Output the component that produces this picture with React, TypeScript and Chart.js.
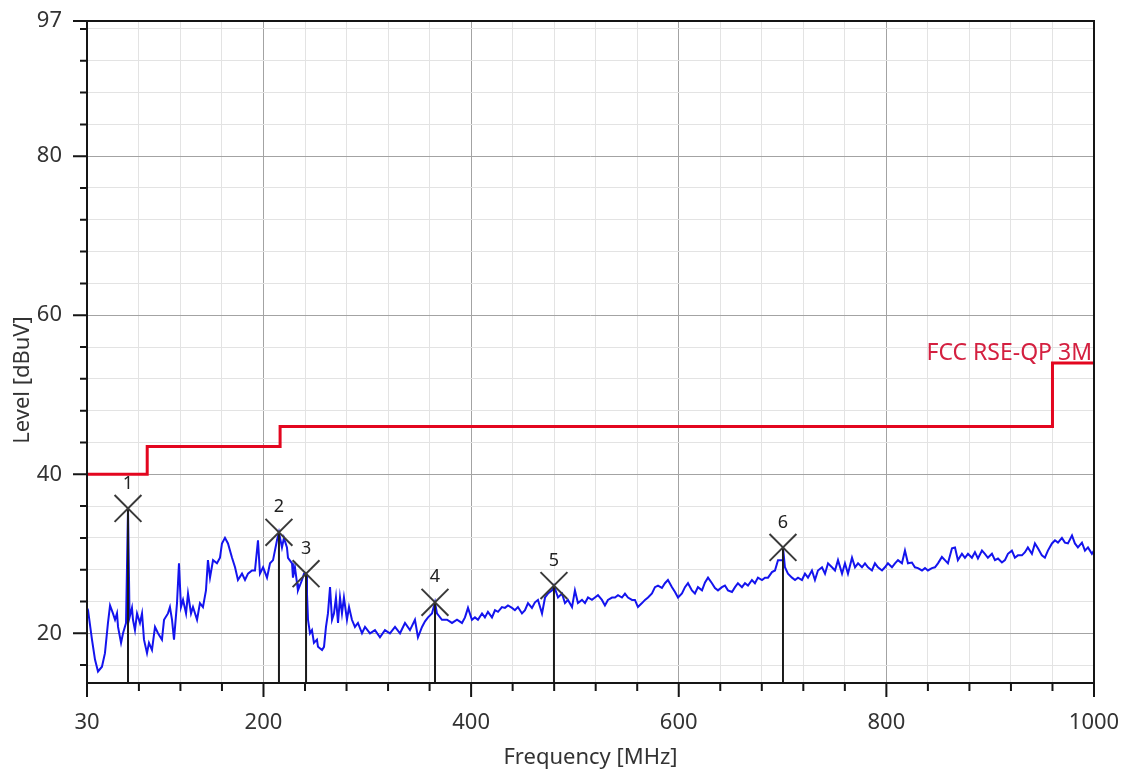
import React, { useEffect, useRef } from 'react';
import { Chart, registerables } from 'chart.js';

Chart.register(...registerables);

// ---- data ----
const traceFreq = [
  30.0, 31.0, 34.8, 37.7, 40.6, 44.4, 47.3, 50.2, 52.2, 55.0,
  57.0, 58.9, 59.9, 62.8, 64.7, 67.6, 69.5, 71.0, 73.3, 74.3,
  76.2, 78.2, 81.0, 83.0, 84.9, 87.8, 89.7, 92.6, 95.5, 98.4,
  102.2, 104.2, 108.0, 109.9, 111.9, 113.8, 116.7, 118.6, 120.5, 122.5,
  125.4, 127.3, 130.2, 132.1, 136.0, 138.8, 141.7, 144.6, 146.5, 148.5,
  151.4, 155.2, 158.1, 160.0, 162.9, 165.8, 169.7, 172.6, 175.4, 179.3,
  182.2, 185.1, 188.9, 191.8, 194.7, 196.6, 199.6, 203.4, 206.3, 209.2,
  213.0, 214.9, 217.8, 219.7, 222.6, 223.6, 227.5, 228.4, 230.3, 232.3,
  233.2, 237.1, 239.0, 241.0, 241.9, 242.9, 244.8, 246.7, 248.6, 251.5,
  252.5, 256.4, 258.3, 260.2, 262.1, 264.1, 266.0, 267.9, 269.8, 271.8,
  273.7, 275.6, 277.5, 280.4, 282.4, 285.2, 288.1, 291.0, 294.9, 297.8,
  302.6, 307.4, 312.2, 317.0, 321.8, 326.7, 331.5, 336.3, 341.1, 345.9,
  348.8, 352.7, 355.6, 358.5, 362.3, 365.2, 367.1, 371.9, 376.8, 381.6,
  386.4, 391.2, 394.1, 397.0, 400.8, 403.7, 406.6, 410.5, 413.3, 416.2,
  420.1, 423.0, 425.9, 429.7, 432.6, 435.5, 439.4, 442.2, 445.1, 449.0,
  451.9, 454.8, 458.6, 461.5, 464.4, 468.3, 471.2, 474.0, 477.9, 479.8,
  483.7, 487.5, 490.4, 493.3, 497.2, 500.0, 502.9, 506.8, 509.7, 512.6,
  516.4, 519.3, 522.2, 526.0, 528.9, 531.8, 535.7, 538.6, 541.5, 545.3,
  548.2, 551.1, 555.0, 557.8, 560.7, 564.6, 567.5, 570.4, 574.2, 577.1,
  580.0, 583.8, 586.7, 589.6, 593.5, 596.4, 599.3, 603.1, 606.0, 608.9,
  612.7, 615.6, 618.5, 622.4, 625.3, 628.2, 632.0, 634.9, 637.8, 641.6,
  644.5, 647.4, 651.3, 654.2, 657.0, 660.9, 663.8, 666.7, 670.5, 673.4,
  676.3, 680.2, 683.1, 686.0, 689.8, 692.7, 695.6, 699.5, 700.4, 702.3,
  705.2, 709.1, 712.0, 714.9, 718.7, 721.6, 724.5, 728.3, 731.2, 734.1,
  738.0, 740.9, 743.8, 747.6, 750.5, 753.4, 757.3, 760.1, 763.0, 766.9,
  769.8, 772.7, 776.5, 779.4, 782.3, 786.1, 789.0, 791.9, 795.8, 798.6,
  801.5, 805.4, 808.3, 811.2, 815.0, 817.9, 820.8, 824.6, 827.5, 830.4,
  834.3, 837.2, 840.0, 843.9, 846.8, 849.7, 853.5, 856.4, 859.3, 863.2,
  866.1, 868.9, 872.8, 875.7, 878.6, 882.4, 885.3, 888.2, 892.1, 894.9,
  897.8, 901.7, 904.6, 907.5, 911.3, 914.2, 917.1, 920.9, 923.8, 926.7,
  930.6, 933.5, 936.3, 940.2, 943.1, 946.0, 949.8, 952.7, 955.6, 959.5,
  962.4, 965.3, 969.1, 972.0, 974.9, 978.8, 981.6, 984.5, 988.4, 991.3,
  994.2, 998.0, 1000.0,
];

const traceLevel = [
  23.2, 22.9, 19.2, 16.7, 15.2, 15.8, 17.5, 21.3, 23.5, 22.5,
  21.7, 22.5, 20.8, 18.8, 20.0, 21.3, 35.7, 22.0, 23.2, 21.7,
  20.4, 22.5, 21.3, 22.5, 19.2, 17.5, 18.8, 17.9, 20.8, 20.0,
  19.2, 21.7, 22.5, 23.3, 21.7, 19.2, 23.8, 28.8, 23.3, 24.2,
  22.5, 25.0, 22.5, 23.3, 21.7, 23.8, 23.3, 25.4, 29.2, 27.0,
  29.2, 28.8, 29.5, 31.3, 32.0, 31.3, 29.5, 28.3, 26.7, 27.5,
  26.7, 27.5, 27.9, 27.9, 31.7, 27.5, 28.3, 27.0, 28.8, 29.2,
  31.7, 32.7, 30.8, 32.0, 30.8, 29.5, 28.8, 27.0, 28.3, 26.3,
  25.4, 26.7, 27.5, 27.5, 25.0, 21.7, 20.0, 20.4, 18.8, 19.2,
  18.3, 17.9, 18.3, 20.8, 22.5, 25.8, 21.7, 22.5, 24.5, 21.3,
  24.5, 22.5, 24.5, 21.7, 23.3, 21.7, 20.8, 21.3, 20.0, 20.8,
  20.0, 20.4, 19.5, 20.4, 20.0, 20.8, 20.0, 21.3, 20.4, 21.7,
  19.5, 20.8, 21.5, 22.0, 22.5, 23.9, 22.5, 21.7, 21.7, 21.3,
  21.7, 21.3, 22.0, 23.2, 21.7, 22.0, 21.7, 22.5, 22.0, 22.7,
  22.0, 22.9, 22.7, 23.3, 23.2, 23.5, 23.2, 22.9, 23.3, 22.5,
  22.9, 23.8, 23.2, 23.9, 24.2, 22.5, 24.5, 25.0, 25.4, 26.0,
  24.5, 25.0, 23.8, 24.2, 23.3, 25.4, 23.8, 24.2, 23.8, 24.5,
  24.2, 24.5, 24.8, 24.2, 23.5, 24.2, 24.5, 24.5, 24.8, 24.5,
  25.0, 24.5, 24.2, 24.2, 23.3, 23.8, 24.2, 24.5, 25.0, 25.8,
  26.0, 25.7, 26.3, 26.7, 25.8, 25.2, 24.5, 25.0, 25.8, 26.3,
  25.4, 25.0, 25.8, 25.4, 26.4, 27.0, 26.3, 25.7, 25.4, 25.8,
  26.0, 25.4, 25.2, 25.8, 26.3, 25.8, 26.3, 26.0, 26.7, 26.3,
  27.0, 26.7, 27.0, 27.0, 27.7, 27.9, 29.2, 29.2, 30.8, 28.3,
  27.5, 27.0, 26.7, 27.0, 26.7, 27.5, 27.0, 27.9, 26.7, 27.9,
  28.3, 27.5, 28.8, 28.3, 27.9, 29.2, 27.5, 28.8, 27.5, 29.5,
  28.3, 28.8, 28.3, 28.8, 28.3, 27.9, 28.8, 28.3, 27.9, 28.3,
  28.8, 28.3, 28.8, 29.2, 28.8, 30.4, 28.8, 28.9, 28.3, 28.2,
  27.9, 28.2, 27.9, 28.2, 28.3, 28.8, 29.6, 29.2, 28.8, 30.7,
  30.8, 29.2, 30.0, 29.5, 30.0, 29.5, 30.2, 29.4, 30.4, 30.0,
  29.5, 30.0, 29.2, 29.4, 28.9, 29.2, 30.0, 30.4, 29.5, 29.8,
  29.8, 30.2, 30.8, 30.0, 31.3, 30.7, 29.8, 29.5, 30.4, 31.3,
  31.7, 31.4, 32.0, 31.4, 31.3, 32.3, 31.3, 30.8, 31.4, 30.4,
  30.8, 30.0, 30.4,
];

const limitName = 'FCC RSE-QP 3M';
const limitFreq = [30, 88, 88, 216, 216, 960, 960, 1000];
const limitLevel = [40, 40, 43.5, 43.5, 46, 46, 54, 54];

const markerIds = ['1', '2', '3', '4', '5', '6'];
const markerFreq = [69.5, 214.9, 241.0, 365.2, 479.8, 700.4];
const markerLevel = [35.7, 32.7, 27.5, 23.9, 26.0, 30.8];

const xMin = 30;
const xMax = 1000;
const yMin = 13.75;
const yMax = 97;
const xMajorTicks = [30, 200, 400, 600, 800, 1000];
const xMinorTicks = [80, 120, 160, 240, 280, 320, 360, 440, 480, 520, 560, 640, 680, 720, 760, 840, 880, 920, 960];
const yMajorTicks = [20, 40, 60, 80, 97];
const yMinorTicks = [16, 24, 28, 32, 36, 44, 48, 52, 56, 64, 68, 72, 76, 84, 88, 92, 96];
const xTitle = 'Frequency [MHz]';
const yTitle = 'Level [dBuV]';

const FONT = '"Noto Sans", "Open Sans", sans-serif';
const TEXT_COLOR = '#333333';

export default function App() {
  const canvasRef = useRef<HTMLCanvasElement | null>(null);

  useEffect(() => {
    const canvas = canvasRef.current;
    if (!canvas) return;

    const xTickValues = [...xMajorTicks, ...xMinorTicks].sort((a, b) => a - b);
    const yTickValues = [...yMajorTicks, ...yMinorTicks].sort((a, b) => a - b);

    const decor = {
      id: 'decor',
      afterDatasetsDraw(chart: any) {
        const { ctx, chartArea } = chart;
        const { left, right, top, bottom } = chartArea;
        const xs = chart.scales.x;
        const ys = chart.scales.y;
        ctx.save();
        // frame
        ctx.strokeStyle = '#151515';
        ctx.lineWidth = 2;
        ctx.strokeRect(left, top, right - left, bottom - top);
        // y tick marks
        ctx.beginPath();
        yMajorTicks.forEach((v) => {
          const p = ys.getPixelForValue(v);
          ctx.moveTo(left - 14, p);
          ctx.lineTo(left, p);
        });
        yMinorTicks.forEach((v) => {
          const p = ys.getPixelForValue(v);
          ctx.moveTo(left - 7, p);
          ctx.lineTo(left, p);
        });
        // x tick marks
        xMajorTicks.forEach((v) => {
          const p = xs.getPixelForValue(v);
          ctx.moveTo(p, bottom);
          ctx.lineTo(p, bottom + 14);
        });
        xMinorTicks.forEach((v) => {
          const p = xs.getPixelForValue(v);
          ctx.moveTo(p, bottom);
          ctx.lineTo(p, bottom + 8);
        });
        ctx.stroke();

        // marker labels
        ctx.fillStyle = '#222222';
        ctx.font = `18px ${FONT}`;
        ctx.textAlign = 'center';
        ctx.textBaseline = 'middle';
        markerIds.forEach((id, i) => {
          const px = xs.getPixelForValue(markerFreq[i]);
          const py = ys.getPixelForValue(markerLevel[i]);
          ctx.fillText(id, px, py - 25);
        });

        // limit label
        ctx.fillStyle = '#d42040';
        ctx.font = `23px ${FONT}`;
        ctx.textAlign = 'right';
        ctx.textBaseline = 'alphabetic';
        ctx.fillText(limitName, right - 2, ys.getPixelForValue(limitLevel[limitLevel.length - 1]) - 3);

        // axis titles
        ctx.fillStyle = TEXT_COLOR;
        ctx.font = `22px ${FONT}`;
        ctx.textAlign = 'center';
        ctx.textBaseline = 'alphabetic';
        ctx.fillText(xTitle, (left + right) / 2, bottom + 81);
        ctx.translate(29, (top + bottom) / 2 + 28);
        ctx.rotate(-Math.PI / 2);
        ctx.fillText(yTitle, 0, 0);
        ctx.restore();
      },
    };

    const gridColor = (majors: number[]) => (c: any) =>
      c.tick && majors.includes(c.tick.value) ? '#a3a3a3' : '#e3e3e3';

    const datasets: any[] = [
      {
        label: 'trace',
        data: traceFreq.map((f, i) => ({ x: f, y: traceLevel[i] })),
        borderColor: '#1414ee',
        borderWidth: 2,
        pointRadius: 0,
        tension: 0,
        order: 4,
      },
      {
        label: limitName,
        data: limitFreq.map((f, i) => ({ x: f, y: limitLevel[i] })),
        borderColor: '#e3061f',
        borderWidth: 3,
        pointRadius: 0,
        tension: 0,
        order: 5,
      },
      ...markerIds.map((id, i) => ({
        label: 'stem' + id,
        data: [
          { x: markerFreq[i], y: yMin },
          { x: markerFreq[i], y: markerLevel[i] },
        ],
        borderColor: '#1a1a1a',
        borderWidth: 2,
        pointRadius: 0,
        order: 2,
      })),
      {
        label: 'markers',
        data: markerFreq.map((f, i) => ({ x: f, y: markerLevel[i] })),
        showLine: false,
        pointStyle: 'crossRot',
        pointRadius: 19,
        pointBorderWidth: 2,
        borderColor: '#3a3a3a',
        backgroundColor: '#3a3a3a',
        order: 1,
      },
    ];

    const chart = new Chart(canvas, {
      type: 'line',
      data: { datasets },
      options: {
        animation: false,
        responsive: false,
        maintainAspectRatio: false,
        devicePixelRatio: 1,
        layout: { padding: { left: 0, top: 16, right: 32, bottom: 0 } },
        plugins: { legend: { display: false }, tooltip: { enabled: false } },
        scales: {
          x: {
            type: 'linear',
            min: xMin,
            max: xMax,
            afterFit: (s: any) => {
              s.height = 90;
              s.paddingLeft = 0;
              s.paddingRight = 0;
              s.paddingTop = 0;
              s.paddingBottom = 0;
            },
            afterBuildTicks: (s: any) => {
              s.ticks = xTickValues.map((v) => ({ value: v }));
            },
            ticks: {
              autoSkip: false,
              maxRotation: 0,
              minRotation: 0,
              padding: 27,
              color: TEXT_COLOR,
              font: { family: FONT, size: 22 },
              callback: (v: any) => (xMajorTicks.includes(Number(v)) ? String(v) : ''),
            },
            grid: { drawTicks: false, color: gridColor(xMajorTicks), lineWidth: 1 },
            border: { display: false },
          },
          y: {
            type: 'linear',
            min: yMin,
            max: yMax,
            afterFit: (s: any) => {
              s.width = 87;
              s.paddingLeft = 0;
              s.paddingRight = 0;
              s.paddingTop = 0;
              s.paddingBottom = 0;
            },
            afterBuildTicks: (s: any) => {
              s.ticks = yTickValues.map((v) => ({ value: v }));
            },
            ticks: {
              autoSkip: false,
              padding: 25,
              color: TEXT_COLOR,
              font: { family: FONT, size: 22 },
              callback: (v: any) => (yMajorTicks.includes(Number(v)) ? String(v) : ''),
            },
            grid: { drawTicks: false, color: gridColor(yMajorTicks), lineWidth: 1 },
            border: { display: false },
          },
        },
      },
      plugins: [decor],
    });

    return () => chart.destroy();
  }, []);

  return (
    <div style={{ position: 'absolute', left: 0, top: 0, width: 1126, height: 773, background: '#ffffff' }}>
      <canvas ref={canvasRef} width={1126} height={773} style={{ display: 'block', width: 1126, height: 773 }} />
    </div>
  );
}
